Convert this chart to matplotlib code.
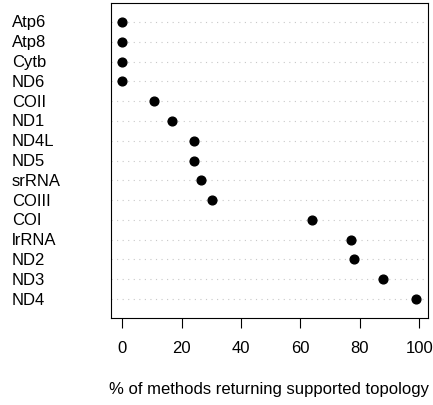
import matplotlib
matplotlib.use('Agg')
import matplotlib.pyplot as plt
from matplotlib.transforms import blended_transform_factory

plt.rcParams['font.family'] = ['Liberation Sans', 'DejaVu Sans']

# genes from top to bottom
genes = ['Atp6', 'Atp8', 'Cytb', 'ND6', 'COII', 'ND1', 'ND4L', 'ND5',
         'srRNA', 'COIII', 'COI', 'lrRNA', 'ND2', 'ND3', 'ND4']
pct = [0.0, 0.0, 0.0, 0.0, 10.8, 16.8, 24.0, 24.0,
       26.5, 30.1, 63.9, 77.1, 78.2, 87.9, 98.9]
xticks = [0, 20, 40, 60, 80, 100]
xlabel = '% of methods returning supported topology'

W, H = 433, 406
fig = plt.figure(figsize=(W / 100, H / 100), dpi=100)
ax = fig.add_axes([110.5 / W, (H - 319) / H, (427.7 - 110.5) / W, (319 - 4) / H])

n = len(genes)
ypos = [n - i for i in range(n)]

for y in ypos:
    ax.axhline(y, color='#c8c8c8', lw=0.8, ls=(0, (1, 4)), zorder=1)
ax.plot(pct, ypos, 'o', color='black', markersize=6.3, zorder=3)

ax.set_xlim(-3.96, 102.85)
ax.set_ylim(0.04, n + 0.96)
ax.set_yticks([])
ax.set_xticks(xticks)
ax.tick_params(axis='x', length=7, width=0.8, pad=9, labelsize=12)
for s in ax.spines.values():
    s.set_linewidth(0.8)

trans = blended_transform_factory(fig.transFigure, ax.transData)
for g, y in zip(genes, ypos):
    fig.text(12 / W, y, g, transform=trans, ha='left', va='center', fontsize=12)

fig.text(269 / W, 1 - 390 / H, xlabel, ha='center', va='center', fontsize=12)

fig.savefig('out.png', dpi=100)
